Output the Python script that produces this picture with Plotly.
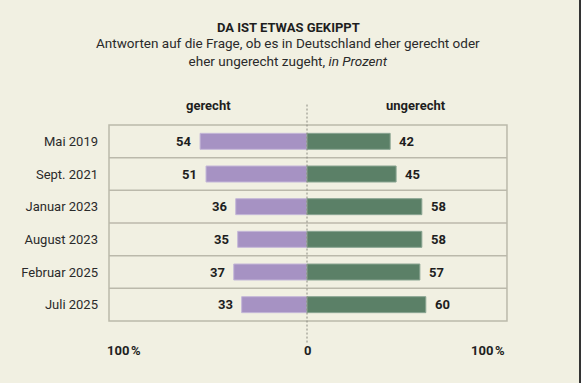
import plotly.graph_objects as go

categories = ["Mai 2019", "Sept. 2021", "Januar 2023", "August 2023", "Februar 2025", "Juli 2025"]
gerecht = [54, 51, 36, 35, 37, 33]
ungerecht = [42, 45, 58, 58, 57, 60]

BG = "#f1f0e2"
PURPLE = "#a692c3"
GREEN = "#5b8067"
FONT = "Roboto, Liberation Sans, sans-serif"
DARK = "#1e1e1e"

fig = go.Figure()
fig.add_trace(go.Bar(y=categories, x=[-v for v in gerecht], orientation="h",
                     marker=dict(color=PURPLE, line=dict(color="#c4b7d8", width=1)),
                     width=0.49, hoverinfo="skip"))
fig.add_trace(go.Bar(y=categories, x=ungerecht, orientation="h",
                     marker=dict(color=GREEN, line=dict(color="#8aa592", width=1)),
                     width=0.49, hoverinfo="skip"))

shapes = []
shapes.append(dict(type="rect", xref="paper", yref="paper", x0=0, x1=1.005, y0=0, y1=1,
                   line=dict(color="#bbb9ab", width=1.5), layer="below"))
for i in range(1, len(categories)):
    shapes.append(dict(type="line", xref="paper", yref="y", x0=0, x1=1.005,
                       y0=i - 0.5, y1=i - 0.5, line=dict(color="#bbb9ab", width=1.5), layer="below"))
shapes.append(dict(type="line", xref="x", yref="paper", x0=0, x1=0, y0=-0.11, y1=1.112,
                   line=dict(color="#8a8a80", width=1, dash="2px,2px"), layer="above"))
shapes.append(dict(type="rect", xref="paper", yref="paper", x0=(579 - 109) / 396, x1=(582 - 109) / 396,
                   y0=-1, y1=2, line=dict(width=0), fillcolor="#333333"))

ann = []
for c, g, u in zip(categories, gerecht, ungerecht):
    ann.append(dict(x=-g, y=c, text=f"<b>{g}</b>", showarrow=False, xanchor="right", xshift=-7,
                    font=dict(size=13, color=DARK, family=FONT)))
    ann.append(dict(x=u, y=c, text=f"<b>{u}</b>", showarrow=False, xanchor="left", xshift=7,
                    font=dict(size=13, color=DARK, family=FONT)))

ann.append(dict(x=-50, y=1, yref="paper", yanchor="middle", yshift=20, text="<b>gerecht</b>",
                showarrow=False, font=dict(size=13, color=DARK, family=FONT)))
ann.append(dict(x=55, y=1, yref="paper", yanchor="middle", yshift=20, text="<b>ungerecht</b>",
                showarrow=False, font=dict(size=13, color=DARK, family=FONT)))
ann.append(dict(x=-100, y=0, yref="paper", yanchor="middle", yshift=-29, xanchor="left", xshift=-4,
                text="<b>100\u202f%</b>", showarrow=False, font=dict(size=13, color=DARK, family=FONT)))
ann.append(dict(x=0, y=0, yref="paper", yanchor="middle", yshift=-29, text="<b>0</b>", showarrow=False,
                font=dict(size=13, color=DARK, family=FONT)))
ann.append(dict(x=100, y=0, yref="paper", yanchor="middle", yshift=-29, xanchor="right", xshift=2,
                text="<b>100\u202f%</b>", showarrow=False, font=dict(size=13, color=DARK, family=FONT)))

ann.append(dict(xref="paper", yref="paper", x=(288 - 109) / 396, y=(383 - 62 - 27) / 196,
                text="<b>DA IST ETWAS GEKIPPT</b>", showarrow=False, yanchor="middle",
                font=dict(size=13, color=DARK, family=FONT)))
ann.append(dict(xref="paper", yref="paper", x=(288 - 109) / 396, y=(383 - 62 - 52) / 196,
                text="Antworten auf die Frage, ob es in Deutschland eher gerecht oder<br>eher ungerecht zugeht, <i>in Prozent</i>",
                showarrow=False, yanchor="middle", align="center",
                font=dict(size=13.5, color="#2a2a2a", family=FONT)))

fig.update_layout(
    width=581, height=383,
    margin=dict(l=109, r=76, t=125, b=62),
    paper_bgcolor=BG, plot_bgcolor=BG,
    barmode="relative", bargap=0, showlegend=False,
    xaxis=dict(range=[-100, 100], showgrid=False, zeroline=False, showticklabels=False, fixedrange=True),
    yaxis=dict(autorange=False, range=[5.5, -0.5], showgrid=False, zeroline=False,
               ticks="", ticklabelstandoff=10, fixedrange=True,
               tickfont=dict(size=13, color="#2a2a2a", family=FONT)),
    shapes=shapes, annotations=ann,
    font=dict(family=FONT),
)

fig.write_html("out.html", config={"displayModeBar": False, "staticPlot": True},
               post_script="document.body.style.margin='0';document.body.style.background='" + BG + "';")
